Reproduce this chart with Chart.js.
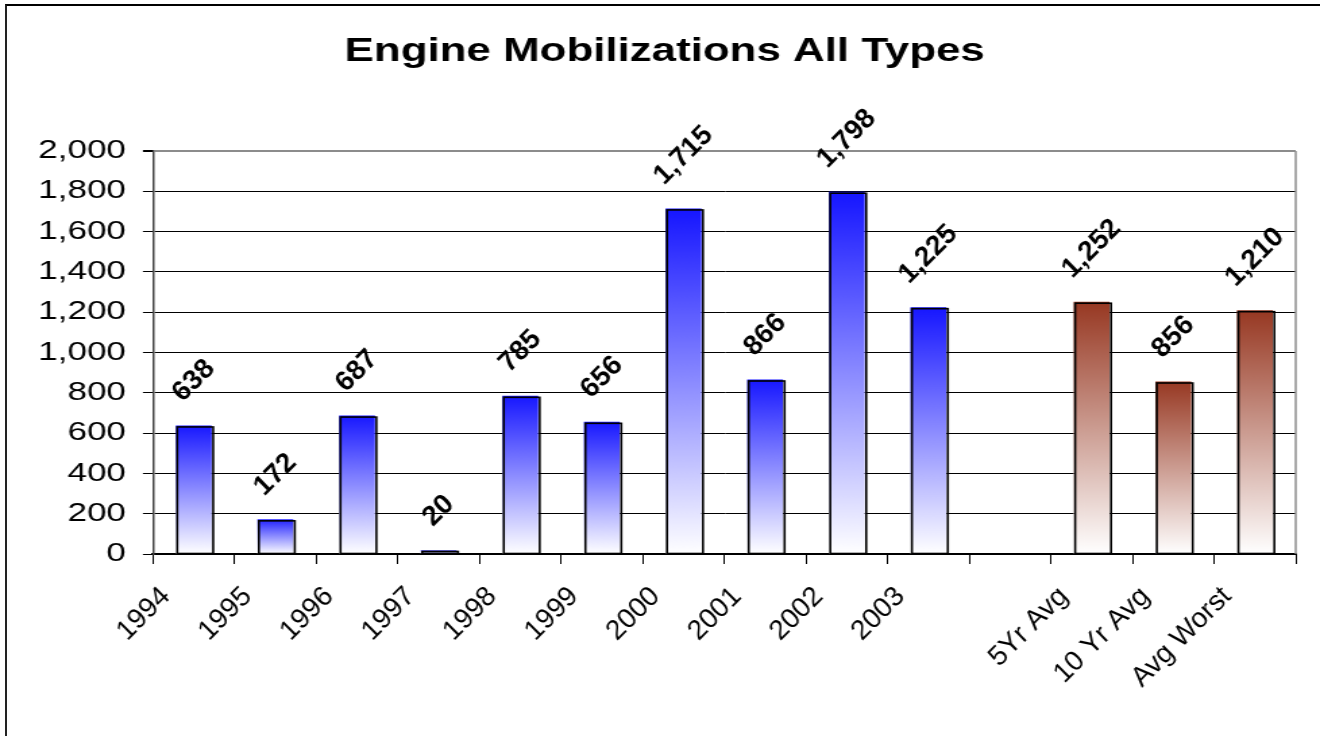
<!DOCTYPE html>
<html>
<head>
<meta charset="utf-8">
<script src="https://cdn.jsdelivr.net/npm/chart.js@4.4.1/dist/chart.umd.min.js"></script>
<style>
    html, body { margin: 0; padding: 0; background: #fff; overflow: hidden; }
    #frame { position: absolute; left: 5px; top: 4px; width: 1400px; height: 800px;
             border-left: 2px solid #222; border-top: 2px solid #000; }
    #chart { position: absolute; left: 0; top: 0; }
</style>
</head>
<body>
<div id="frame"></div>
<canvas id="chart" width="978" height="736" style="width:1320px;height:736px"></canvas>
<script>
// datos
const yearLabels = ['1994', '1995', '1996', '1997', '1998', '1999', '2000', '2001', '2002', '2003'];
const yearValues = [638, 172, 687, 20, 785, 656, 1715, 866, 1798, 1225];
const avgLabels = ['5Yr Avg', '10 Yr Avg', 'Avg Worst'];
const avgValues = [1252, 856, 1210];
const yMin = 0, yMax = 2000, yStep = 200;

// el lienzo se estira en horizontal como el original (texto ancho)
const SX = 1320 / 978;
const FONT = '"Liberation Sans", Arial, sans-serif';

const labels = [...yearLabels, '', ...avgLabels];
const values = [...yearValues, null, ...avgValues];
const isAvg = labels.map((l, i) => i > yearLabels.length);

function barFill(c) {
    const chart = c.chart;
    const v = values[c.dataIndex];
    if (!chart.chartArea || v == null) return 'rgba(0,0,0,0)';
    const y = chart.scales.y;
    const top = y.getPixelForValue(v) - 2;
    const base = y.getPixelForValue(0);
    const g = chart.ctx.createLinearGradient(0, top, 0, base);
    if (isAvg[c.dataIndex]) {
        g.addColorStop(0, '#963620');
        g.addColorStop(1, '#ffffff');
    } else {
        g.addColorStop(0, '#1414ff');
        g.addColorStop(1, '#ffffff');
    }
    return g;
}

const decor = {
    id: 'decor',
    beforeDatasetsDraw(chart) {
        const { ctx, chartArea } = chart;
        ctx.save();
        ctx.strokeStyle = '#8c8c8c';
        ctx.lineWidth = 1.5;
        ctx.beginPath();
        ctx.moveTo(chartArea.right, chartArea.top);
        ctx.lineTo(chartArea.right, chartArea.bottom);
        ctx.stroke();
        ctx.restore();
    },
    afterDatasetsDraw(chart) {
        const ctx = chart.ctx;
        const meta = chart.getDatasetMeta(0);
        ctx.save();
        meta.data.forEach((bar, i) => {
            const v = values[i];
            if (v == null) return;
            const p = bar.getProps(['x', 'y', 'base', 'width'], true);
            // contorno negro desplazado
            ctx.strokeStyle = '#000';
            ctx.lineWidth = 1.6;
            ctx.strokeRect(p.x - p.width / 2 + 1.1, p.y + 1.5, p.width, p.base - p.y - 1.5);

            // etiqueta del valor
            const txt = v.toLocaleString('en-US');
            ctx.font = 'bold 28px ' + FONT;
            const w = ctx.measureText(txt).width;
            const cy = p.y - 21 - (w + 20) * 0.3536;
            ctx.save();
            ctx.translate(p.x, cy);
            ctx.scale(1 / SX, 1);
            ctx.rotate(-Math.PI / 4);
            ctx.fillStyle = '#000';
            ctx.textAlign = 'center';
            ctx.textBaseline = 'middle';
            ctx.fillText(txt, 0, 0);
            ctx.restore();
        });
        ctx.restore();
    },
    afterDraw(chart) {
        // etiquetas de categoría a 45°
        const ctx = chart.ctx;
        const xs = chart.scales.x;
        ctx.save();
        ctx.font = '28px ' + FONT;
        ctx.fillStyle = '#000';
        labels.forEach((l, i) => {
            if (!l) return;
            const cx = xs.getPixelForValue(i);
            ctx.save();
            ctx.translate(cx - 28 / SX, 592);
            ctx.scale(1 / SX, 1);
            ctx.rotate(-Math.PI / 4);
            ctx.textAlign = 'right';
            ctx.textBaseline = 'middle';
            ctx.fillText(l, 0, 0);
            ctx.restore();
        });
        ctx.restore();
    }
};

new Chart(document.getElementById('chart').getContext('2d'), {
    type: 'bar',
    data: {
        labels: labels,
        datasets: [{
            label: 'Engine Mobilizations',
            data: values,
            backgroundColor: barFill,
            borderWidth: 0,
            barPercentage: 0.44,
            categoryPercentage: 1
        }]
    },
    options: {
        responsive: false,
        devicePixelRatio: 1,
        animation: false,
        layout: { padding: { left: 25, right: 18, top: 0, bottom: 0 } },
        plugins: {
            legend: { display: false },
            tooltip: { enabled: false },
            title: {
                display: true,
                text: 'Engine Mobilizations All Types',
                color: '#000',
                font: { family: FONT, size: 32.5, weight: 'bold', lineHeight: 1.2 },
                padding: { top: 32.5, bottom: 79.5 }
            }
        },
        scales: {
            x: {
                ticks: { display: false },
                grid: { drawOnChartArea: false, drawTicks: true, tickLength: 10, color: '#000', lineWidth: 1 },
                border: { display: true, color: '#000', width: 2 },
                afterFit: s => { s.height = 182; }
            },
            y: {
                min: yMin,
                max: yMax,
                ticks: {
                    stepSize: yStep,
                    padding: 12.6,
                    color: '#000',
                    font: { family: FONT, size: 26 },
                    callback: v => v.toLocaleString('en-US')
                },
                grid: {
                    color: c => (c.tick && c.tick.value === yMax) ? '#8c8c8c' : '#000',
                    lineWidth: c => (c.tick && c.tick.value === yMax) ? 2 : 1,
                    tickColor: '#000',
                    tickLength: 7.4
                },
                border: { display: true, color: '#444', width: 1.5 },
                afterFit: s => { s.width = 88.3; }
            }
        }
    },
    plugins: [decor]
});
</script>
</body>
</html>
